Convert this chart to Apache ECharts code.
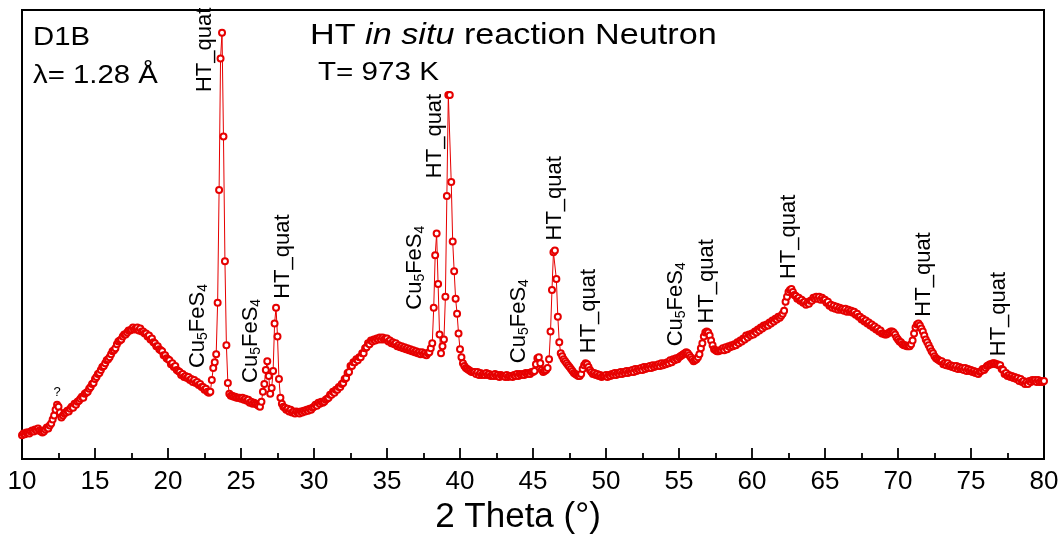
<!DOCTYPE html>
<html>
<head>
<meta charset="utf-8">
<script src="https://cdn.jsdelivr.net/npm/echarts@6/dist/echarts.min.js"></script>
<style>
html,body{margin:0;padding:0;background:#fff;}
#chart{width:1062px;height:540px;}
</style>
</head>
<body>
<div id="chart"></div>
<script>
// 2-theta grid of the measurement (degrees)
const thetaStart = 10;
const thetaStep = 0.1;
// Neutron intensity (arb. units), one row per degree (x.0 .. x.9)
const intensity = [
  24,26,25,27,27,26,28,29,28,30,
  29,31,29,28,27,28,30,32,31,34,
  36,40,44,50,55,53,47,42,44,46,
  47,49,48,51,53,52,56,55,58,59,
  61,63,62,66,67,68,71,73,76,77,
  81,83,86,87,90,93,94,97,100,101,
  103,106,109,110,112,116,119,120,121,124,
  126,126,128,130,130,131,133,131,132,133,
  130,132,129,129,127,127,124,125,121,122,
  118,117,114,114,111,110,109,105,105,102,
  101,100,96,97,93,94,90,89,88,85,
  86,83,84,82,83,80,81,78,80,77,
  78,75,76,73,73,70,71,68,67,68,
  80,92,98,106,158,272,405,431,326,200,
  115,77,66,64,64,63,63,62,62,62,
  61,62,60,61,59,60,57,58,56,57,
  56,55,54,53,58,68,76,90,99,84,
  66,72,89,137,153,124,81,62,56,53,
  52,50,51,48,50,47,48,46,48,47,
  46,48,47,49,48,50,49,51,50,52,
  53,55,54,57,56,58,57,58,60,61,
  62,65,65,68,67,70,70,73,73,76,
  77,81,82,87,88,94,94,98,98,101,
  100,103,103,107,107,112,113,117,116,120,
  119,121,120,122,121,123,121,123,121,122,
  122,119,120,117,118,116,117,114,115,113,
  114,112,113,111,112,110,111,109,110,108,
  109,107,108,106,108,106,107,105,107,108,
  112,117,153,206,228,177,126,107,114,121,
  164,266,368,368,280,220,190,162,147,127,
  111,103,97,94,92,91,90,89,88,88,
  88,86,88,85,87,85,86,85,87,85,
  86,84,85,84,86,84,85,83,85,84,
  84,83,85,83,84,84,83,85,84,86,
  84,86,85,86,85,87,86,87,86,88,
  88,89,96,102,103,97,90,88,89,90,
  92,101,129,171,209,211,182,144,118,107,
  104,101,99,97,95,93,91,89,87,86,
  85,84,84,86,91,95,97,96,93,90,
  88,86,87,85,86,84,85,83,84,84,
  85,83,85,84,86,85,87,85,87,86,
  88,86,88,87,89,87,89,88,90,88,
  91,89,91,90,92,90,93,91,93,92,
  94,92,95,93,95,94,96,94,97,95,
  97,96,98,97,100,98,101,100,102,101,
  103,104,105,106,107,108,107,105,103,101,
  99,100,101,103,106,112,117,124,128,129,
  128,125,120,115,111,110,109,109,110,110,
  112,110,113,111,114,113,115,114,116,115,
  118,117,120,119,122,121,125,123,126,125,
  127,126,129,128,131,130,133,132,135,134,
  136,135,138,137,140,139,142,141,144,143,
  145,147,150,159,164,169,171,172,169,166,
  165,162,163,160,161,158,159,156,158,157,
  160,160,163,162,164,162,164,161,163,161,
  161,158,159,155,156,153,155,152,154,151,
  153,151,152,150,152,149,151,149,150,148,
  149,146,147,144,144,141,142,139,140,137,
  138,135,136,133,134,131,132,129,130,127,
  127,126,126,127,128,129,129,128,126,123,
  121,119,118,116,115,115,114,114,114,116,
  120,127,133,136,137,135,132,129,125,121,
  118,115,112,109,107,104,102,101,100,99,
  99,96,97,95,97,94,95,93,94,92,
  94,91,93,91,92,90,92,89,91,89,
  90,88,89,87,88,86,88,89,91,90,
  92,94,95,96,96,97,97,96,96,95,
  95,91,90,86,87,84,85,83,84,82,
  83,81,82,79,81,78,79,76,78,76,
  79,78,80,79,80,78,80,78,79,78,
  79
];
const xTicks = {min: 10, max: 80, interval: 5};

// Phase annotations: kind, 2theta of the label, intensity at label start
const phaseKind  = ['cu','ht','cu','ht','cu','ht','cu','ht','ht','cu','ht','ht','ht','ht'];
const phaseTheta = [22.05,22.53,25.68,27.88,36.92,38.29,44.04,46.51,48.84,54.79,56.92,62.53,71.78,76.92];
const phaseBase  = [92,371,77,162,151,284,97,221,107,114,137,182,144,104];
const unknownMark = {theta: 12.4, level: 67};

const data = intensity.map((v, i) => [+(thetaStart + i * thetaStep).toFixed(1), v]);

const RED = '#e60000';
const FONT = 'Liberation Sans, Arial, sans-serif';

const chart = echarts.init(document.getElementById('chart'));
chart.setOption({
  animation: false,
  backgroundColor: '#fff',
  grid: {left: 22, right: 18, top: 10, bottom: 76, show: true, borderColor: '#000', borderWidth: 2, backgroundColor: 'transparent'},
  xAxis: {
    type: 'value', min: xTicks.min, max: xTicks.max, interval: xTicks.interval,
    axisLine: {lineStyle: {color: '#000', width: 2}},
    axisTick: {inside: true, length: 11, lineStyle: {color: '#000', width: 1.8}},
    minorTick: {show: true, splitNumber: 2, length: 6, lineStyle: {color: '#000', width: 1.8}},
    splitLine: {show: false},
    axisLabel: {fontSize: 26, color: '#000', margin: 10, fontFamily: FONT},
    name: '2 Theta (°)', nameLocation: 'middle', nameGap: 40,
    nameTextStyle: {fontSize: 35, color: '#000', fontFamily: FONT, padding: [0, 30, 0, 0]}
  },
  yAxis: {
    type: 'value', min: 0, max: 454,
    axisLine: {show: true, lineStyle: {color: '#000', width: 2}},
    axisTick: {show: false}, axisLabel: {show: false}, splitLine: {show: false}
  },
  series: [{
    type: 'line', data: data,
    symbol: 'emptyCircle', symbolSize: 6, showSymbol: true, showAllSymbol: true,
    itemStyle: {color: RED, borderWidth: 1.6},
    lineStyle: {color: RED, width: 1},
    z: 3
  }]
});

const graphics = [];
function px(theta, level) { return chart.convertToPixel({xAxisIndex: 0, yAxisIndex: 0}, [theta, level]); }
const rich = {
  m: {fontSize: 22, lineHeight: 25, fontFamily: FONT, fill: '#000'},
  s: {fontSize: 14, lineHeight: 10, verticalAlign: 'bottom', fontFamily: FONT, fill: '#000'}
};
phaseKind.forEach((k, i) => {
  const p = px(phaseTheta[i], phaseBase[i]);
  graphics.push({
    type: 'text', x: p[0], y: p[1], rotation: Math.PI / 2, z: 10,
    style: {
      text: k === 'cu' ? '{m|Cu}{s|5}{m|FeS}{s|4}' : '{m|HT_quat}',
      rich: rich, align: 'left', verticalAlign: 'middle', fill: '#000', fontFamily: FONT
    }
  });
});
const q = px(unknownMark.theta, unknownMark.level);
graphics.push({type: 'text', x: q[0], y: q[1], z: 10,
  style: {text: '?', fontSize: 13, fontFamily: FONT, fill: '#000', align: 'center', verticalAlign: 'middle'}});

graphics.push({type: 'text', x: 33, y: 37.5, scaleX: 1.15, z: 10,
  style: {text: 'D1B', fontSize: 25.5, fontFamily: FONT, fill: '#000', align: 'left', verticalAlign: 'middle'}});
graphics.push({type: 'text', x: 33, y: 76, scaleX: 1.15, z: 10,
  style: {text: 'λ= 1.28 Å', fontSize: 25.5, fontFamily: FONT, fill: '#000', align: 'left', verticalAlign: 'middle'}});
graphics.push({type: 'text', x: 310, y: 36, scaleX: 1.14, z: 10,
  style: {text: '{r|HT }{i|in situ}{r| reaction Neutron}', align: 'left', verticalAlign: 'middle',
    rich: {r: {fontSize: 30, fontFamily: FONT, fill: '#000'}, i: {fontSize: 30, fontStyle: 'italic', fontFamily: FONT, fill: '#000'}}}});
graphics.push({type: 'text', x: 318, y: 72.5, scaleX: 1.16, z: 10,
  style: {text: 'T= 973 K', fontSize: 25.5, fontFamily: FONT, fill: '#000', align: 'left', verticalAlign: 'middle'}});

chart.setOption({graphic: graphics});
</script>
</body>
</html>
